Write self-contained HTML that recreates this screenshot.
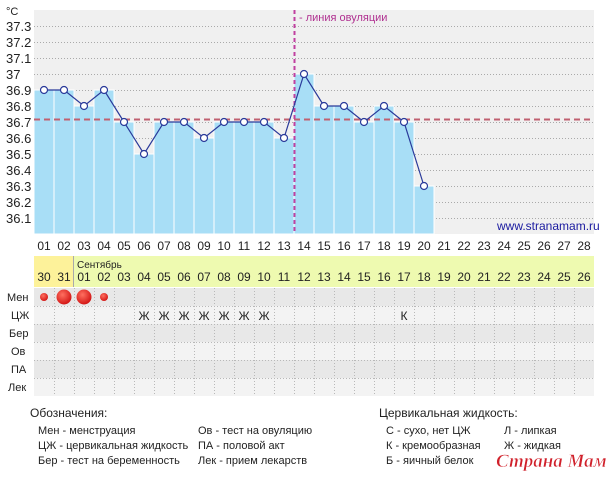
<!DOCTYPE html>
<html><head><meta charset="utf-8"><style>
body{margin:0;background:#fff;width:606px;height:474px;overflow:hidden}
svg text{font-family:"Liberation Sans","DejaVu Sans",sans-serif}
svg text.wm{font-family:"Liberation Serif","DejaVu Serif",serif}
</style></head><body>
<svg width="606" height="474" viewBox="0 0 606 474" xmlns="http://www.w3.org/2000/svg">
<rect x="34" y="10" width="560" height="224" fill="#f0f0f0"/>
<g stroke="#aaa" stroke-width="1" stroke-dasharray="1,2">
<line x1="34" x2="594" y1="26.5" y2="26.5"/><line x1="34" x2="594" y1="42.5" y2="42.5"/><line x1="34" x2="594" y1="58.5" y2="58.5"/><line x1="34" x2="594" y1="74.5" y2="74.5"/><line x1="34" x2="594" y1="90.5" y2="90.5"/><line x1="34" x2="594" y1="106.5" y2="106.5"/><line x1="34" x2="594" y1="122.5" y2="122.5"/><line x1="34" x2="594" y1="138.5" y2="138.5"/><line x1="34" x2="594" y1="154.5" y2="154.5"/><line x1="34" x2="594" y1="170.5" y2="170.5"/><line x1="34" x2="594" y1="186.5" y2="186.5"/><line x1="34" x2="594" y1="202.5" y2="202.5"/><line x1="34" x2="594" y1="218.5" y2="218.5"/>
</g>
<g font-size="13" fill="#222" text-anchor="start">
<text x="6" y="15" font-size="11">°C</text>
<text x="6" y="31">37.3</text><text x="6" y="47">37.2</text><text x="6" y="63">37.1</text><text x="6" y="79">37</text><text x="6" y="95">36.9</text><text x="6" y="111">36.8</text><text x="6" y="127">36.7</text><text x="6" y="143">36.6</text><text x="6" y="159">36.5</text><text x="6" y="175">36.4</text><text x="6" y="191">36.3</text><text x="6" y="207">36.2</text><text x="6" y="223">36.1</text>
</g>
<g fill="#a8def6" stroke="#fff" stroke-width="1">
<rect x="34" y="90" width="20" height="144"/><rect x="54" y="90" width="20" height="144"/><rect x="74" y="106" width="20" height="128"/><rect x="94" y="90" width="20" height="144"/><rect x="114" y="122" width="20" height="112"/><rect x="134" y="154" width="20" height="80"/><rect x="154" y="122" width="20" height="112"/><rect x="174" y="122" width="20" height="112"/><rect x="194" y="138" width="20" height="96"/><rect x="214" y="122" width="20" height="112"/><rect x="234" y="122" width="20" height="112"/><rect x="254" y="122" width="20" height="112"/><rect x="274" y="138" width="20" height="96"/><rect x="294" y="74" width="20" height="160"/><rect x="314" y="106" width="20" height="128"/><rect x="334" y="106" width="20" height="128"/><rect x="354" y="122" width="20" height="112"/><rect x="374" y="106" width="20" height="128"/><rect x="394" y="122" width="20" height="112"/><rect x="414" y="186" width="20" height="48"/>
</g>
<line x1="34" x2="594" y1="119.5" y2="119.5" stroke="#c06070" stroke-width="2" stroke-dasharray="6,4"/>
<line x1="294.5" x2="294.5" y1="10" y2="234" stroke="#c040a0" stroke-width="2" stroke-dasharray="4,3"/>
<text x="299" y="21" font-size="11" fill="#b03090">- линия овуляции</text>
<text x="497" y="230" font-size="12" fill="#1a1aa0">www.stranamam.ru</text>
<polyline fill="none" stroke="#2a3a9a" stroke-width="1.2" points="44,90 64,90 84,106 104,90 124,122 144,154 164,122 184,122 204,138 224,122 244,122 264,122 284,138 304,74 324,106 344,106 364,122 384,106 404,122 424,186"/>
<g fill="#fff" stroke="#2a3a9a" stroke-width="1.2">
<circle cx="44" cy="90" r="3.5"/><circle cx="64" cy="90" r="3.5"/><circle cx="84" cy="106" r="3.5"/><circle cx="104" cy="90" r="3.5"/><circle cx="124" cy="122" r="3.5"/><circle cx="144" cy="154" r="3.5"/><circle cx="164" cy="122" r="3.5"/><circle cx="184" cy="122" r="3.5"/><circle cx="204" cy="138" r="3.5"/><circle cx="224" cy="122" r="3.5"/><circle cx="244" cy="122" r="3.5"/><circle cx="264" cy="122" r="3.5"/><circle cx="284" cy="138" r="3.5"/><circle cx="304" cy="74" r="3.5"/><circle cx="324" cy="106" r="3.5"/><circle cx="344" cy="106" r="3.5"/><circle cx="364" cy="122" r="3.5"/><circle cx="384" cy="106" r="3.5"/><circle cx="404" cy="122" r="3.5"/><circle cx="424" cy="186" r="3.5"/>
</g>
<g font-size="12" fill="#222" text-anchor="middle">
<text x="44" y="250">01</text><text x="64" y="250">02</text><text x="84" y="250">03</text><text x="104" y="250">04</text><text x="124" y="250">05</text><text x="144" y="250">06</text><text x="164" y="250">07</text><text x="184" y="250">08</text><text x="204" y="250">09</text><text x="224" y="250">10</text><text x="244" y="250">11</text><text x="264" y="250">12</text><text x="284" y="250">13</text><text x="304" y="250">14</text><text x="324" y="250">15</text><text x="344" y="250">16</text><text x="364" y="250">17</text><text x="384" y="250">18</text><text x="404" y="250">19</text><text x="424" y="250">20</text><text x="444" y="250">21</text><text x="464" y="250">22</text><text x="484" y="250">23</text><text x="504" y="250">24</text><text x="524" y="250">25</text><text x="544" y="250">26</text><text x="564" y="250">27</text><text x="584" y="250">28</text>
</g>
<rect x="34" y="256" width="40" height="31" fill="#fdf29a"/>
<rect x="74" y="256" width="520" height="31" fill="#eefab0"/>
<line x1="73.5" x2="73.5" y1="256" y2="287" stroke="#aaa"/>
<text x="77" y="268" font-size="10" fill="#222">Сентябрь</text>
<g font-size="12" fill="#222" text-anchor="middle">
<text x="44" y="281">30</text><text x="64" y="281">31</text><text x="84" y="281">01</text><text x="104" y="281">02</text><text x="124" y="281">03</text><text x="144" y="281">04</text><text x="164" y="281">05</text><text x="184" y="281">06</text><text x="204" y="281">07</text><text x="224" y="281">08</text><text x="244" y="281">09</text><text x="264" y="281">10</text><text x="284" y="281">11</text><text x="304" y="281">12</text><text x="324" y="281">13</text><text x="344" y="281">14</text><text x="364" y="281">15</text><text x="384" y="281">16</text><text x="404" y="281">17</text><text x="424" y="281">18</text><text x="444" y="281">19</text><text x="464" y="281">20</text><text x="484" y="281">21</text><text x="504" y="281">22</text><text x="524" y="281">23</text><text x="544" y="281">24</text><text x="564" y="281">25</text><text x="584" y="281">26</text>
</g>
<rect x="34" y="288" width="560" height="18" fill="#e8e8e8"/>
<rect x="34" y="306" width="560" height="18" fill="#f3f3f3"/>
<rect x="34" y="324" width="560" height="18" fill="#e8e8e8"/>
<rect x="34" y="342" width="560" height="18" fill="#f3f3f3"/>
<rect x="34" y="360" width="560" height="18" fill="#e8e8e8"/>
<rect x="34" y="378" width="560" height="18" fill="#f3f3f3"/>
<g stroke="#b8b8b8" stroke-dasharray="1,2">
<line x1="34" x2="594" y1="306.5" y2="306.5"/><line x1="34" x2="594" y1="324.5" y2="324.5"/><line x1="34" x2="594" y1="342.5" y2="342.5"/><line x1="34" x2="594" y1="360.5" y2="360.5"/><line x1="34" x2="594" y1="378.5" y2="378.5"/>
<line x1="54.5" x2="54.5" y1="288" y2="396"/><line x1="74.5" x2="74.5" y1="288" y2="396"/><line x1="94.5" x2="94.5" y1="288" y2="396"/><line x1="114.5" x2="114.5" y1="288" y2="396"/><line x1="134.5" x2="134.5" y1="288" y2="396"/><line x1="154.5" x2="154.5" y1="288" y2="396"/><line x1="174.5" x2="174.5" y1="288" y2="396"/><line x1="194.5" x2="194.5" y1="288" y2="396"/><line x1="214.5" x2="214.5" y1="288" y2="396"/><line x1="234.5" x2="234.5" y1="288" y2="396"/><line x1="254.5" x2="254.5" y1="288" y2="396"/><line x1="274.5" x2="274.5" y1="288" y2="396"/><line x1="294.5" x2="294.5" y1="288" y2="396"/><line x1="314.5" x2="314.5" y1="288" y2="396"/><line x1="334.5" x2="334.5" y1="288" y2="396"/><line x1="354.5" x2="354.5" y1="288" y2="396"/><line x1="374.5" x2="374.5" y1="288" y2="396"/><line x1="394.5" x2="394.5" y1="288" y2="396"/><line x1="414.5" x2="414.5" y1="288" y2="396"/><line x1="434.5" x2="434.5" y1="288" y2="396"/><line x1="454.5" x2="454.5" y1="288" y2="396"/><line x1="474.5" x2="474.5" y1="288" y2="396"/><line x1="494.5" x2="494.5" y1="288" y2="396"/><line x1="514.5" x2="514.5" y1="288" y2="396"/><line x1="534.5" x2="534.5" y1="288" y2="396"/><line x1="554.5" x2="554.5" y1="288" y2="396"/><line x1="574.5" x2="574.5" y1="288" y2="396"/>
</g>
<g font-size="11" fill="#222">
<text x="7" y="301">Мен</text><text x="11" y="319">ЦЖ</text><text x="9" y="337">Бер</text><text x="11" y="355">Ов</text><text x="11" y="373">ПА</text><text x="8" y="391">Лек</text>
</g>
<defs><radialGradient id="g" cx="0.4" cy="0.35" r="0.7"><stop offset="0" stop-color="#ff7060"/><stop offset="1" stop-color="#d01010"/></radialGradient></defs>
<circle cx="44" cy="297" r="4" fill="url(#g)"/><circle cx="64" cy="297" r="7.5" fill="url(#g)"/><circle cx="84" cy="297" r="7.5" fill="url(#g)"/><circle cx="104" cy="297" r="4" fill="url(#g)"/>
<g font-size="12" fill="#222" text-anchor="middle">
<text x="144" y="320">Ж</text><text x="164" y="320">Ж</text><text x="184" y="320">Ж</text><text x="204" y="320">Ж</text><text x="224" y="320">Ж</text><text x="244" y="320">Ж</text><text x="264" y="320">Ж</text><text x="404" y="320">К</text>
</g>
<g font-size="11" fill="#222">
<text x="30" y="417" font-size="12">Обозначения:</text>
<text x="38" y="434">Мен - менструация</text><text x="38" y="449">ЦЖ - цервикальная жидкость</text><text x="38" y="464">Бер - тест на беременность</text>
<text x="198" y="434">Ов - тест на овуляцию</text><text x="198" y="449">ПА - половой акт</text><text x="198" y="464">Лек - прием лекарств</text>
<text x="379" y="417" font-size="12">Цервикальная жидкость:</text>
<text x="386" y="434">С - сухо, нет ЦЖ</text><text x="386" y="449">К - кремообразная</text><text x="386" y="464">Б - яичный белок</text>
<text x="504" y="434">Л - липкая</text><text x="504" y="449">Ж - жидкая</text>
</g>
<text class="wm" x="496" y="467" font-size="19" font-style="italic" font-weight="bold" fill="#d0202a" stroke="#fff" stroke-width="0.5">Страна Мам</text>
</svg>
</body></html>
